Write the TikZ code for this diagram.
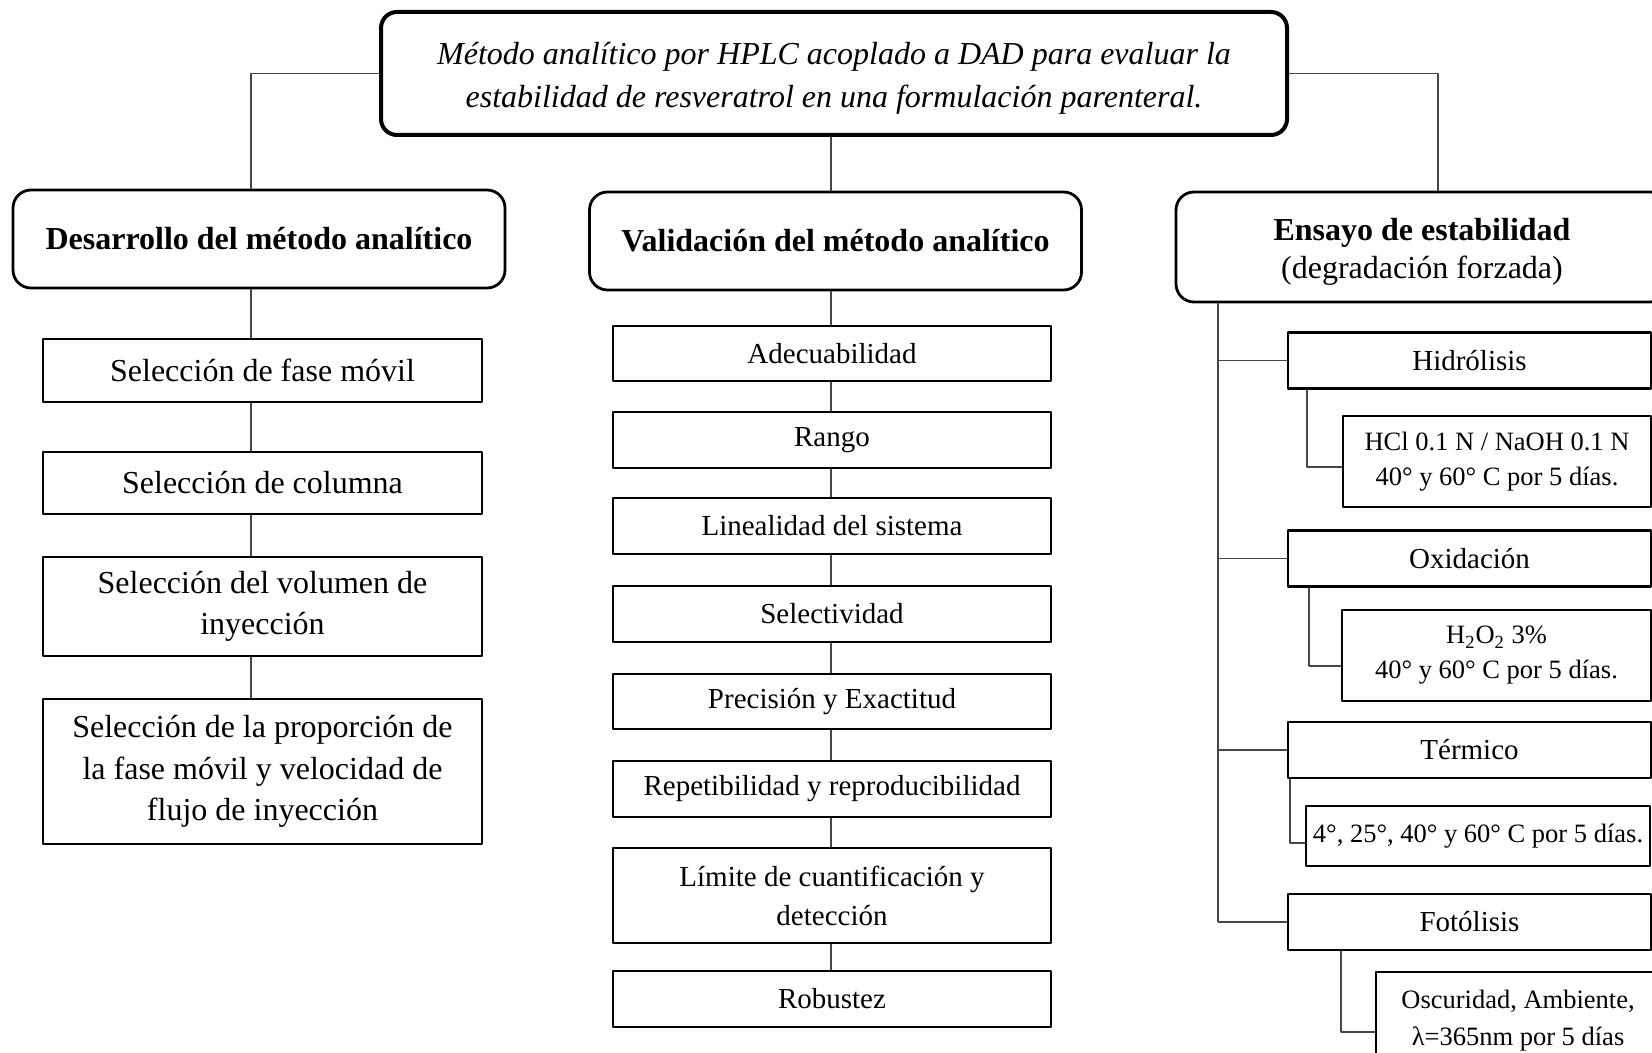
\documentclass[tikz,border=0pt]{standalone}
\usepackage{fontspec}
\setmainfont{Liberation Serif}
\definecolor{linkgray}{RGB}{70,70,70}
\begin{document}
\begin{tikzpicture}[x=0.5pt,y=-0.5pt,line join=round]
    \tikzset{
        box/.style={draw,inner sep=0pt,align=center},
        main box/.style={box,line width=2pt,rounded corners=8pt,minimum width=453pt,minimum height=61.5pt,font=\fontsize{16}{21.5}\selectfont\itshape},
        group box/.style={box,line width=1.4pt,rounded corners=9pt,minimum width=246pt,minimum height=49pt,font=\fontsize{16}{19}\selectfont},
        dev box/.style={box,line width=1.2pt,minimum width=219.5pt,font=\fontsize{16}{20.75}\selectfont},
        val box/.style={box,line width=1.2pt,minimum width=219pt,minimum height=28pt,font=\fontsize{14.5}{19.5}\selectfont},
        cond box/.style={box,line width=1.2pt,minimum width=181.5pt,minimum height=28pt,font=\fontsize{14.5}{18}\selectfont},
        note box/.style={box,line width=1.2pt,font=\fontsize{13.25}{17.5}\selectfont},
        link/.style={draw=linkgray,line width=0.7pt}
    }
    \useasboundingbox (0,0) rectangle (1652,1053);
    \clip (0,0) rectangle (1652,1053);
    % column lines
    \coordinate (colL) at (251,0);
    \coordinate (colM) at (831,0);
    \coordinate (colR) at (1438,0);
    \coordinate (colT) at (1218,0);
    % title and groups
    \node[main box] (top) at (834,73.5) {\rule{0pt}{16pt}Método analítico por HPLC acoplado a DAD para evaluar la\\estabilidad de resveratrol en una formulación parenteral.};
    \node[group box] (dev) at (259,239) {\textbf{Desarrollo del método analítico}};
    \node[group box] (val) at (835.5,241) {\textbf{Validación del método analítico}};
    \node[group box,minimum height=55pt] (test) at (1422,247) {\rule{0pt}{16pt}\textbf{Ensayo de estabilidad}\\(degradación forzada)};
    \draw[link] (top.west) -| (colL |- dev.north);
    \draw[link] (top.south -| colM) -- (colM |- val.north);
    \draw[link] (top.east) -| (colR |- test.north);
    % desarrollo
    \node[dev box,minimum height=31.5pt] (dev1) at (262.5,370.5) {Selección de fase móvil};
    \node[dev box,minimum height=31pt] (dev2) at (262.5,483) {Selección de columna};
    \node[dev box,minimum height=49.5pt] (dev3) at (262.5,606.5) {Selección del volumen de\\inyección};
    \node[dev box,minimum height=72.5pt] (dev4) at (262.5,771.5) {Selección de la proporción de\\la fase móvil y velocidad de\\flujo de inyección};
    \foreach \a/\b in {dev/dev1,dev1/dev2,dev2/dev3,dev3/dev4}
        \draw[link] (\a.south -| colL) -- (\b.north -| colL);
    % validacion
    \foreach \n/\y/\h/\txt in {val1/353.5/27.5/Adecuabilidad,val2/440/28/Rango,val3/526/28/Linealidad del sistema,val4/614/28/Selectividad,val5/701.5/27.5/Precisión y Exactitud,val6/789/28/Repetibilidad y reproducibilidad,val7/895.5/47.5/Límite de cuantificación y\\detección,val8/999/28/Robustez}
        \node[val box,minimum height=\h pt] (\n) at (832,\y) {\txt};
    \foreach \a/\b in {val/val1,val1/val2,val2/val3,val3/val4,val4/val5,val5/val6,val6/val7,val7/val8}
        \draw[link] (\a.south -| colM) -- (\b.north -| colM);
    % ensayo
    \node[cond box] (hyd) at (1469.5,360.5) {Hidrólisis};
    \node[note box,minimum width=154pt,minimum height=45.5pt] (hyd1) at (1497,461.5) {HCl 0.1 N / NaOH 0.1 N\\40° y 60° C por 5 días.};
    \node[cond box] (oxi) at (1469.5,558.5) {Oxidación};
    \node[note box,minimum width=154.5pt,minimum height=45.5pt] (oxi1) at (1496.5,655.5) {H\textsubscript{2}O\textsubscript{2} 3\%\\40° y 60° C por 5 días.};
    \node[cond box] (ter) at (1469.5,750) {Térmico};
    \node[note box,minimum width=172pt,minimum height=30pt] (ter1) at (1478,836) {4°, 25°, 40° y 60° C por 5 días.};
    \node[cond box] (fot) at (1469.5,922) {Fotólisis};
    \node[note box,minimum width=142pt,minimum height=49pt,font=\fontsize{13.25}{18.5}\selectfont] (fot1) at (1518,1021) {Oscuridad, Ambiente,\\λ=365nm por 5 días};
    \draw[link] (test.south -| colT) -- (colT |- fot.west);
    \foreach \n in {hyd,oxi,ter,fot}
        \draw[link] (colT |- \n.west) -- (\n.west);
    \draw[link] ([xshift=10pt]hyd.south west) |- ([yshift=-2.75pt]hyd1.west);
    \draw[link] ([xshift=11pt]oxi.south west) |- ([yshift=-5.25pt]oxi1.west);
    \draw[link] ([xshift=1.5pt]ter.south west) |- ([yshift=-3.5pt]ter1.west);
    \draw[link] ([xshift=27pt]fot.south west) |- ([yshift=-5.5pt]fot1.west);
\end{tikzpicture}
\end{document}
